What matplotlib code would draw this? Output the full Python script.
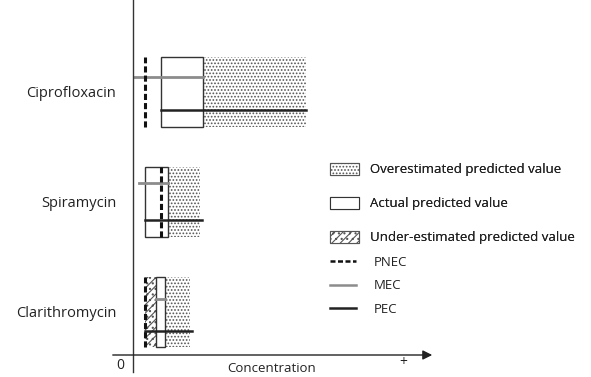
import numpy as np
import matplotlib
matplotlib.use("Agg")
import matplotlib.pyplot as plt
from matplotlib.patches import Patch
from matplotlib.lines import Line2D

plt.rcParams['font.family'] = ['Open Sans', 'DejaVu Sans']
plt.rcParams['hatch.linewidth'] = 0.8
plt.rcParams['hatch.color'] = '#555555'
plt.rcParams['text.color'] = '#222222'

# Datos (unidades arbitrarias de concentración)
farmacos = ['Ciprofloxacin', 'Spiramycin', 'Clarithromycin']
posicion = [3, 2, 1]
pnec = [1.2, 2.8, 1.2]
sub_ini = [None, None, 1.2]          # sub-estimado
real_ini = [2.8, 1.2, 2.3]           # valor predicho real
real_fin = [7.0, 3.5, 3.2]
sobre_fin = [17.3, 6.7, 5.7]         # sobre-estimado
mec_ini = [0.0, 0.6, 2.3]
mec_fin = [7.0, 3.5, 3.2]
mec_y = [0.14, 0.17, 0.12]
pec_ini = [2.8, 1.2, 1.2]
pec_fin = [17.3, 6.9, 5.9]
pec_y = [-0.16, -0.16, -0.17]
media_altura = 0.32

fig = plt.figure(figsize=(5.91, 3.77), dpi=100)
ax = fig.add_axes([133 / 591, 22 / 377, 307 / 591, 355 / 377])
ax.set_xlim(0, 30.7)
ax.set_ylim(0.609, 3.836)
for s in ax.spines.values():
    s.set_visible(False)
ax.set_xticks([])
ax.set_yticks(posicion, farmacos)
ax.tick_params(axis='y', length=0, pad=12, labelsize=10.5, labelcolor='#222222')

for i, y in enumerate(posicion):
    b, h = y - media_altura, 2 * media_altura
    # sobre-estimado
    ax.bar(real_fin[i], h, width=sobre_fin[i] - real_fin[i], bottom=b, align='edge',
           facecolor='white', hatch='.....', linewidth=0)
    # sub-estimado
    if sub_ini[i] is not None:
        ax.bar(sub_ini[i], h, width=real_ini[i] - sub_ini[i], bottom=b, align='edge',
               facecolor='white', hatch='////...', linewidth=0)
    # valor real
    ax.bar(real_ini[i], h, width=real_fin[i] - real_ini[i], bottom=b, align='edge',
           facecolor='none', edgecolor='#333333', linewidth=1.0)
    # MEC
    ax.plot([mec_ini[i], mec_fin[i]], [y + mec_y[i]] * 2, color='#8c8c8c', lw=2)
    # PEC
    ax.plot([pec_ini[i], pec_fin[i]], [y + pec_y[i]] * 2, color='#222222', lw=1.8)
    # PNEC
    ax.plot([pnec[i], pnec[i]], [b, b + h], color='#111111', lw=2.2,
            linestyle=(0, (2, 1)))

# ejes
ax.plot([0, 0], [0.4545, 3.836], color='#333333', lw=1, clip_on=False)
ax.annotate('', xy=(30.2, 0.609), xytext=(-2.3, 0.609), annotation_clip=False,
            arrowprops=dict(arrowstyle='-|>', color='#222222', lw=1,
                            mutation_scale=14))
ax.text(-1.3, 0.51, '0', ha='center', va='center', fontsize=10, clip_on=False)
ax.text(27.0, 0.545, '+', ha='center', va='center', fontsize=10)
ax.text(13.9, 0.485, 'Concentration', ha='center', va='center', fontsize=9.5)

# leyendas
h1 = [Patch(facecolor='white', edgecolor='#555555', hatch='.....', linewidth=0.8),
      Patch(facecolor='white', edgecolor='#333333', linewidth=0.8),
      Patch(facecolor='white', edgecolor='#555555', hatch='////...', linewidth=0.8)]
l1 = ['Overestimated predicted value', 'Actual predicted value',
      'Under-estimated predicted value']
leg1 = fig.legend(h1, l1, loc='upper left', bbox_to_anchor=(330 / 591, 1 - 163 / 377),
                  frameon=False, fontsize=9.5, handlelength=2.2, handleheight=1.0,
                  handletextpad=0.8, labelspacing=1.55, borderpad=0, borderaxespad=0)
h2 = [Line2D([], [], color='#111111', lw=1.8, linestyle=(0, (2, 1))),
      Line2D([], [], color='#8c8c8c', lw=1.8),
      Line2D([], [], color='#222222', lw=1.8)]
l2 = ['PNEC', 'MEC', 'PEC']
leg2 = fig.legend(h2, l2, loc='upper left', bbox_to_anchor=(330 / 591, 1 - 256 / 377),
                  frameon=False, fontsize=9.5, handlelength=2.0,
                  handletextpad=1.3, labelspacing=0.78, borderpad=0, borderaxespad=0)
fig.add_artist(leg1)

fig.savefig('out.png', dpi=100)
